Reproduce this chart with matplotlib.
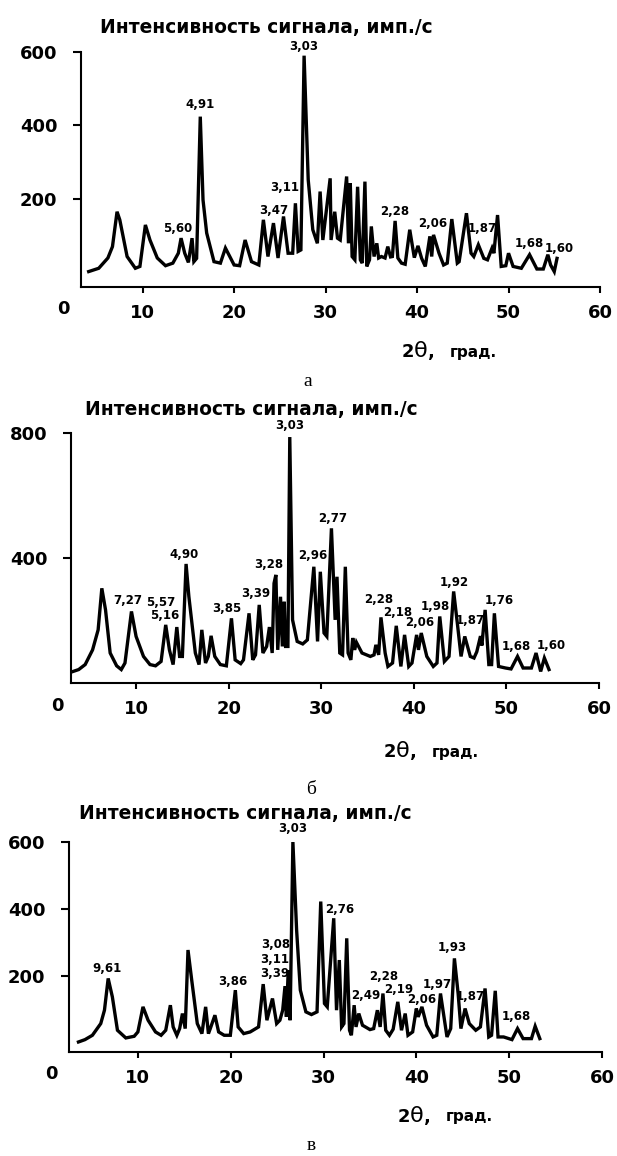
import matplotlib
matplotlib.use("Agg")
import matplotlib.pyplot as plt

# ---------------- data ----------------
# Panel а
two_theta_a = [4.1, 5.2, 6.2, 6.7, 7.2, 7.5, 8.3, 9.2, 9.7, 10.3, 10.8, 11.6, 12.5, 13.3, 13.9,
               14.2, 14.6, 15.0, 15.4, 15.6, 15.9, 16.3, 16.6, 17.0, 17.8, 18.5, 19.05, 20.0, 20.6,
               21.2, 21.9, 22.7, 23.2, 23.7, 24.3, 24.8, 25.4, 25.9, 26.4, 26.7, 27.0, 27.3, 27.65,
               28.1, 28.6, 29.1, 29.4, 29.7, 30.5, 30.6, 31.0, 31.3, 31.6, 32.3, 32.5, 32.7, 32.9,
               33.2, 33.5, 33.8, 34.0, 34.3, 34.5, 34.8, 35.0, 35.3, 35.6, 35.8, 36.1, 36.5, 36.8,
               37.1, 37.3, 37.6, 37.9, 38.3, 38.7, 39.2, 39.7, 40.1, 40.5, 40.9, 41.4, 41.6, 41.8,
               42.4, 42.9, 43.3, 43.8, 44.4, 44.6, 45.4, 45.9, 46.2, 46.7, 47.3, 47.7, 48.2, 48.4,
               48.8, 49.2, 49.7, 50.0, 50.5, 51.4, 52.3, 53.1, 53.8, 54.3, 54.6, 55.0, 55.3]
intensity_a = [2, 11, 39, 70, 165, 143, 43, 11, 16, 129, 88, 39, 18, 25, 52,
               93, 52, 27, 93, 29, 38, 424, 197, 107, 29, 25, 66, 20, 18,
               88, 29, 20, 143, 43, 134, 39, 152, 52, 52, 188, 57, 61, 590,
               252, 116, 79, 220, 88, 256, 88, 165, 93, 88, 261, 79, 243, 43,
               34, 233, 34, 25, 247, 16, 34, 125, 43, 79, 39, 43, 39, 70,
               42, 43, 140, 39, 25, 22, 116, 40, 72, 38, 16, 98, 43, 102,
               52, 20, 25, 145, 25, 29, 161, 52, 43, 75, 38, 34, 66, 52,
               156, 16, 18, 52, 16, 11, 48, 9, 9, 48, 20, 2, 38]
labels_a = ["3,03", "4,91", "3,11", "3,47", "5,60", "2,28", "2,06", "1,87", "1,68", "1,60"]
label_x_a = [27.6, 16.3, 25.5, 24.3, 13.8, 37.5, 41.7, 47.1, 52.3, 55.5]
label_y_a = [614, 456, 232, 168, 120, 166, 132, 120, 78, 66]

# Panel б
two_theta_b = [3.2, 3.8, 4.5, 5.3, 5.9, 6.3, 6.7, 7.2, 7.9, 8.4, 8.8, 9.5, 10.0, 10.8, 11.5, 12.1,
               12.7, 13.2, 13.6, 14.0, 14.4, 14.7, 15.0, 15.4, 15.7, 16.4, 16.8, 17.1, 17.5, 17.8,
               18.1, 18.5, 19.1, 19.75, 20.3, 20.7, 21.3, 21.6, 22.2, 22.6, 22.9, 23.3, 23.7, 24.1,
               24.4, 24.7, 24.9, 25.1, 25.3, 25.6, 25.8, 26.0, 26.15, 26.4, 26.6, 26.9, 27.4, 28.0,
               28.5, 29.2, 29.6, 29.9, 30.3, 30.6, 31.1, 31.5, 31.7, 32.0, 32.3, 32.6, 32.9, 33.2,
               33.4, 33.6, 33.8, 34.4, 35.3, 35.7, 35.9, 36.2, 36.45, 36.9, 37.2, 37.7, 38.1, 38.6,
               39.0, 39.45, 39.8, 40.3, 40.5, 40.8, 41.4, 42.1, 42.5, 42.8, 43.3, 43.8, 44.3, 44.7,
               45.1, 45.5, 46.1, 46.5, 46.8, 47.2, 47.35, 47.7, 48.1, 48.4, 48.7, 49.15, 49.9, 50.5,
               51.2, 51.8, 52.7, 53.2, 53.7, 54.1, 54.6]
intensity_b = [37, 43, 59, 106, 170, 303, 234, 96, 55, 43, 64, 229, 149, 85, 59, 55,
               69, 186, 106, 59, 179, 85, 85, 381, 277, 96, 59, 170, 64, 85,
               151, 85, 59, 55, 207, 74, 62, 74, 223, 74, 90, 250, 96, 117,
               179, 96, 319, 346, 106, 276, 117, 260, 117, 117, 787, 202, 133, 125,
               138, 372, 133, 356, 160, 149, 495, 202, 340, 96, 90, 372, 96, 74,
               144, 106, 130, 96, 85, 90, 122, 90, 210, 96, 53, 64, 183, 53,
               154, 53, 64, 154, 106, 160, 85, 53, 64, 213, 69, 85, 293, 191,
               85, 149, 85, 80, 100, 150, 120, 234, 59, 59, 223, 53, 48, 45,
               85, 48, 48, 96, 37, 80, 43]
labels_b = ["3,03", "2,77", "2,96", "3,28", "3,39", "4,90", "7,27", "5,57", "5,16", "3,85",
            "2,28", "2,18", "2,06", "1,98", "1,92", "1,87", "1,76", "1,68", "1,60"]
label_x_b = [26.6, 31.2, 29.1, 24.3, 22.9, 15.2, 9.1, 12.7, 13.1, 19.75,
             36.2, 38.3, 40.6, 42.3, 44.4, 46.1, 49.2, 51.1, 54.8]
label_y_b = [824, 527, 407, 378, 285, 412, 264, 259, 216, 237,
             266, 226, 195, 245, 321, 200, 264, 117, 119]

# Panel в
two_theta_c = [3.6, 4.3, 5.1, 6.0, 6.4, 6.8, 7.25, 7.8, 8.7, 9.6, 10.0, 10.55, 11.1, 11.9, 12.5,
               13.0, 13.5, 13.8, 14.2, 14.5, 14.8, 15.1, 15.4, 15.8, 16.4, 16.9, 17.3, 17.6, 17.8,
               18.3, 18.7, 19.3, 19.96, 20.5, 20.8, 21.4, 22.1, 23.0, 23.5, 23.9, 24.5, 24.95, 25.3,
               25.6, 25.85, 26.0, 26.2, 26.4, 26.7, 27.1, 27.5, 28.1, 28.7, 29.3, 29.7, 30.1, 30.4,
               31.1, 31.4, 31.7, 31.95, 32.2, 32.5, 32.8, 33.0, 33.3, 33.5, 33.8, 34.2, 35.0, 35.4,
               35.8, 36.1, 36.4, 36.7, 37.1, 37.5, 38.0, 38.4, 38.8, 39.1, 39.6, 40.0, 40.2, 40.6,
               41.1, 41.8, 42.2, 42.6, 43.3, 43.7, 44.1, 44.5, 44.8, 45.25, 45.7, 46.4, 46.9, 47.4,
               47.8, 48.1, 48.5, 48.8, 49.4, 50.3, 50.9, 51.5, 52.4, 52.8, 53.3]
intensity_c = [2, 9, 22, 57, 97, 192, 137, 37, 14, 19, 32, 107, 67, 32, 22,
               37, 112, 47, 22, 42, 87, 42, 277, 187, 57, 27, 107, 27, 42,
               82, 32, 22, 22, 157, 47, 27, 32, 47, 175, 67, 132, 57, 67,
               97, 169, 77, 217, 67, 600, 337, 157, 92, 84, 92, 422, 117, 107,
               372, 97, 247, 47, 57, 312, 37, 22, 112, 47, 87, 52, 39, 42,
               97, 47, 147, 37, 22, 40, 122, 37, 87, 22, 32, 102, 77, 107,
               52, 17, 22, 147, 17, 42, 252, 147, 42, 102, 57, 37, 47, 162,
               17, 22, 155, 17, 17, 9, 42, 12, 12, 49, 12]
labels_c = ["3,03", "2,76", "3,08", "3,11", "3,39", "9,61", "3,86", "2,28", "2,49", "2,19",
            "2,06", "1,97", "1,93", "1,87", "1,68"]
label_x_c = [26.7, 31.7, 24.8, 24.7, 24.7, 6.7, 20.2, 36.5, 34.5, 38.05,
             40.6, 42.3, 43.9, 45.8, 50.8]
label_y_c = [639, 399, 294, 250, 207, 222, 182, 197, 142, 160,
             130, 174, 284, 137, 77]

x_ticks = [10, 20, 30, 40, 50, 60]
title_text = "Интенсивность сигнала, имп./с"
panel_letters = ["а", "б", "в"]

# ---------------- layout ----------------
W, H = 617, 1156
fig = plt.figure(figsize=(W / 100, H / 100), dpi=100)


def add_ax(l, t, r, b):
    return fig.add_axes([l / W, 1 - b / H, (r - l) / W, (b - t) / H])


def fx(px):
    return px / W


def fy(py):
    return 1 - py / H


panels = [
    dict(rect=(81, 52, 600, 287), xlim=(3.26, 60), ylim=(-40, 600), yticks=[200, 400, 600],
         x=two_theta_a, y=intensity_a, lt=labels_a, lx=label_x_a, ly=label_y_a,
         title=(100, 28), zero=(63, 309), axlab=(402, 352), letter=(308, 381)),
    dict(rect=(71, 433, 599, 683), xlim=(2.97, 60), ylim=(0, 800), yticks=[400, 800],
         x=two_theta_b, y=intensity_b, lt=labels_b, lx=label_x_b, ly=label_y_b,
         title=(85, 410), zero=(57, 706), axlab=(384, 752), letter=(311, 789)),
    dict(rect=(69, 842, 602, 1052), xlim=(2.58, 60), ylim=(-28, 600), yticks=[200, 400, 600],
         x=two_theta_c, y=intensity_c, lt=labels_c, lx=label_x_c, ly=label_y_c,
         title=(79, 813), zero=(51, 1074), axlab=(398, 1117), letter=(311, 1145)),
]

for i, p in enumerate(panels):
    ax = add_ax(*p["rect"])
    ax.plot(p["x"], p["y"], color="black", lw=2.4, solid_joinstyle="miter")
    ax.set_xlim(*p["xlim"])
    ax.set_ylim(*p["ylim"])
    ax.set_xticks(x_ticks)
    ax.set_yticks(p["yticks"])
    ax.set_xticklabels([str(t) for t in x_ticks])
    ax.set_yticklabels([str(t) for t in p["yticks"]])
    for s in ("top", "right"):
        ax.spines[s].set_visible(False)
    for s in ("left", "bottom"):
        ax.spines[s].set_linewidth(1.5)
    ax.tick_params(axis="x", length=4.5, width=1.5, pad=8, labelsize=13)
    ax.tick_params(axis="y", length=6, width=1.5, pad=11, labelsize=13)
    for lab in ax.get_xticklabels() + ax.get_yticklabels():
        lab.set_fontweight("bold")
    ax.patch.set_alpha(0)
    for t, xx, yy in zip(p["lt"], p["lx"], p["ly"]):
        ax.text(xx, yy, t, ha="center", va="center", fontsize=8.5, fontweight="bold",
                clip_on=False)
    # title
    fig.text(fx(p["title"][0]), fy(p["title"][1]), title_text, ha="left", va="center",
             fontsize=13.4, fontweight="bold")
    # "0" tick label
    fig.text(fx(p["zero"][0]), fy(p["zero"][1]), "0", ha="center", va="center",
             fontsize=13, fontweight="bold")
    # axis label 2θ, град.
    ax0, ay0 = p["axlab"]
    fig.text(fx(ax0), fy(ay0), "2", ha="left", va="center", fontsize=13, fontweight="bold")
    fig.text(fx(ax0 + 12), fy(ay0 - 1), "θ", ha="left", va="center", fontsize=16)
    fig.text(fx(ax0 + 26), fy(ay0), ",", ha="left", va="center", fontsize=13, fontweight="bold")
    fig.text(fx(ax0 + 48), fy(ay0), "град.", ha="left", va="center", fontsize=11,
             fontweight="bold")
    # panel letter
    fig.text(fx(p["letter"][0]), fy(p["letter"][1]), panel_letters[i], ha="center",
             va="center", fontsize=14, family=["Liberation Serif", "DejaVu Serif"])

fig.savefig("out.png", dpi=100)
